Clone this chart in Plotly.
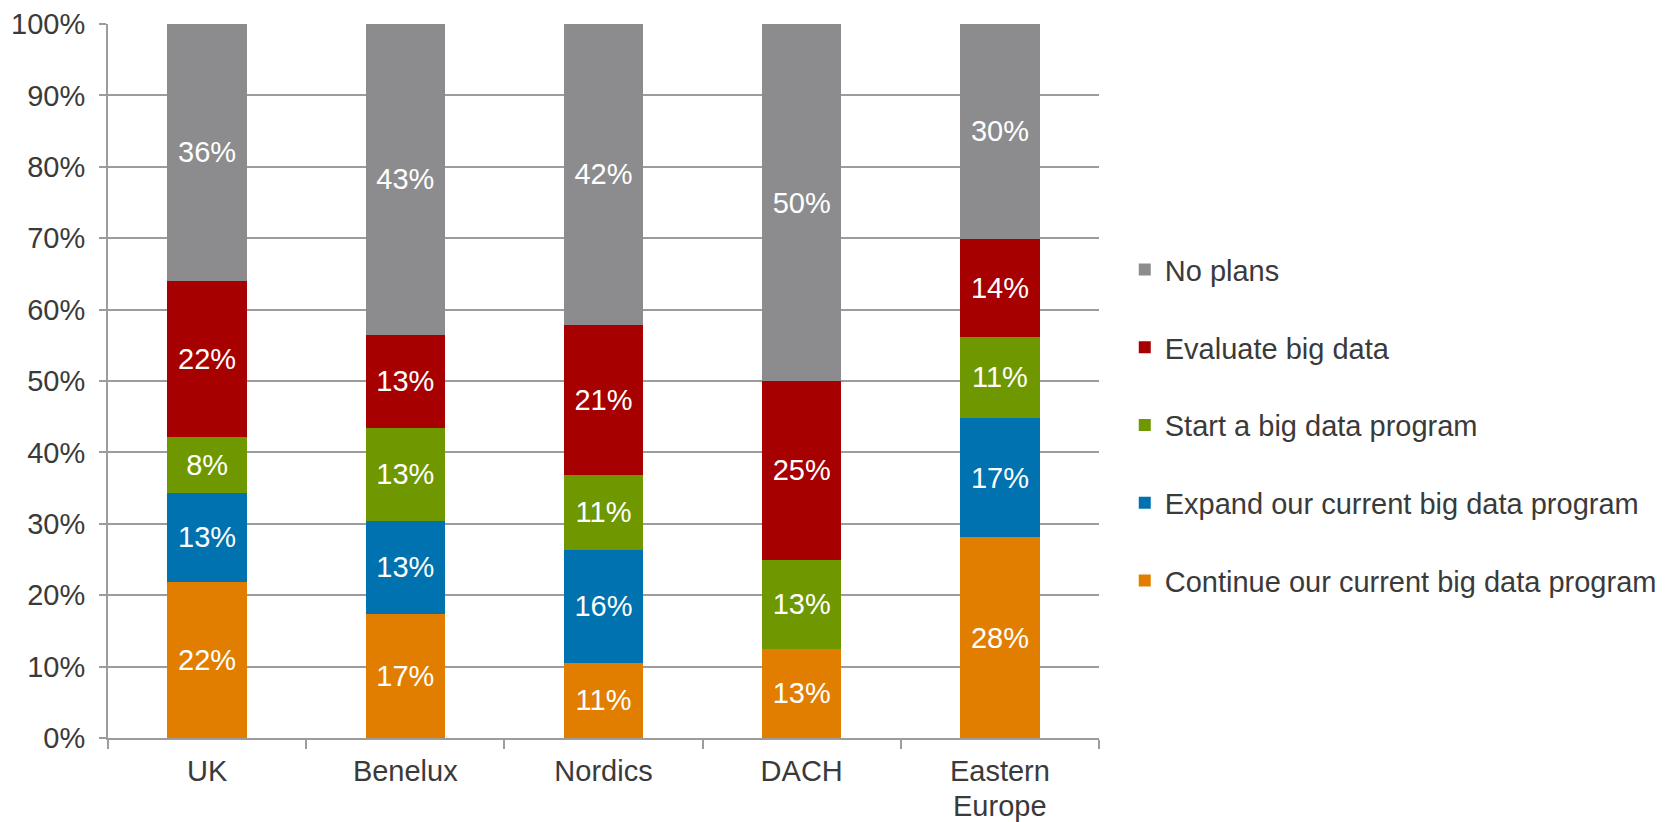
import plotly.graph_objects as go

regions = ["UK", "Benelux", "Nordics", "DACH", "Eastern Europe"]

continue_prog = [21.88, 17.39, 10.53, 12.50, 28.1]
expand_prog = [12.50, 13.04, 15.79, 0.0, 16.7]
start_prog = [7.81, 13.04, 10.53, 12.50, 11.4]
evaluate = [21.88, 13.04, 21.05, 25.00, 13.7]
no_plans = [35.94, 43.48, 42.11, 50.00, 30.1]

series = [
    ("Continue our current big data program", continue_prog, "#E17E00"),
    ("Expand our current big data program", expand_prog, "#0072B0"),
    ("Start a big data program", start_prog, "#6F9700"),
    ("Evaluate big data", evaluate, "#A60000"),
    ("No plans", no_plans, "#8C8C8E"),
]

FONT = "Liberation Sans, Arial, sans-serif"
GRID = "#9C9C9C"
TXT = "#3A3A3A"
FS = 29

def lbl(v):
    return "" if v <= 0 else f"{int(v + 0.5)}%"

fig = go.Figure()
n = len(series)
for i, (name, vals, col) in enumerate(series):
    fig.add_trace(go.Bar(
        name=name, x=regions, y=vals,
        marker=dict(color=col, line=dict(width=0)),
        text=[lbl(v) for v in vals],
        textposition="inside", insidetextanchor="middle",
        textangle=0, constraintext="none",
        textfont=dict(family=FONT, size=FS, color="white"),
        legendgroup=f"g{i}", legendrank=n - i,
        hoverinfo="skip",
    ))

# first word of each region as tick label, remaining words as second line below
first_lines = [r.split(" ", 1)[0] for r in regions]
annotations = []
for r in regions:
    parts = r.split(" ", 1)
    if len(parts) > 1:
        annotations.append(dict(
            x=r, xref="x", y=0, yref="paper", yanchor="middle", yshift=-68,
            text=parts[1], showarrow=False,
            font=dict(family=FONT, size=FS, color=TXT),
        ))

fig.update_layout(
    width=1678, height=822,
    barmode="stack", bargap=0.6,
    plot_bgcolor="white", paper_bgcolor="white",
    margin=dict(l=100, r=587, t=16, b=92, autoexpand=False),
    font=dict(family=FONT, size=FS, color=TXT),
    legend=dict(
        x=1.026, xanchor="left", y=0.438, yanchor="middle",
        traceorder="grouped", tracegroupgap=37,
        font=dict(family=FONT, size=FS, color=TXT),
        itemclick=False, itemdoubleclick=False,
    ),
    annotations=annotations,
    showlegend=True,
)
fig.update_yaxes(
    range=[0, 100], dtick=10, ticksuffix="%",
    showgrid=True, gridcolor=GRID, gridwidth=2,
    showline=True, linecolor=GRID, linewidth=2,
    ticks="outside", ticklen=7, tickcolor=GRID, tickwidth=2,
    ticklabelstandoff=8, ticklabeloverflow="allow", zeroline=False,
    tickfont=dict(family=FONT, size=FS, color=TXT),
)
fig.update_xaxes(
    tickmode="array", tickvals=regions, ticktext=first_lines,
    showline=True, linecolor=GRID, linewidth=2,
    ticks="outside", tickson="boundaries", ticklen=9, tickcolor=GRID, tickwidth=2,
    ticklabelstandoff=6,
    tickfont=dict(family=FONT, size=FS, color=TXT),
)

fig.write_html("out.html")
